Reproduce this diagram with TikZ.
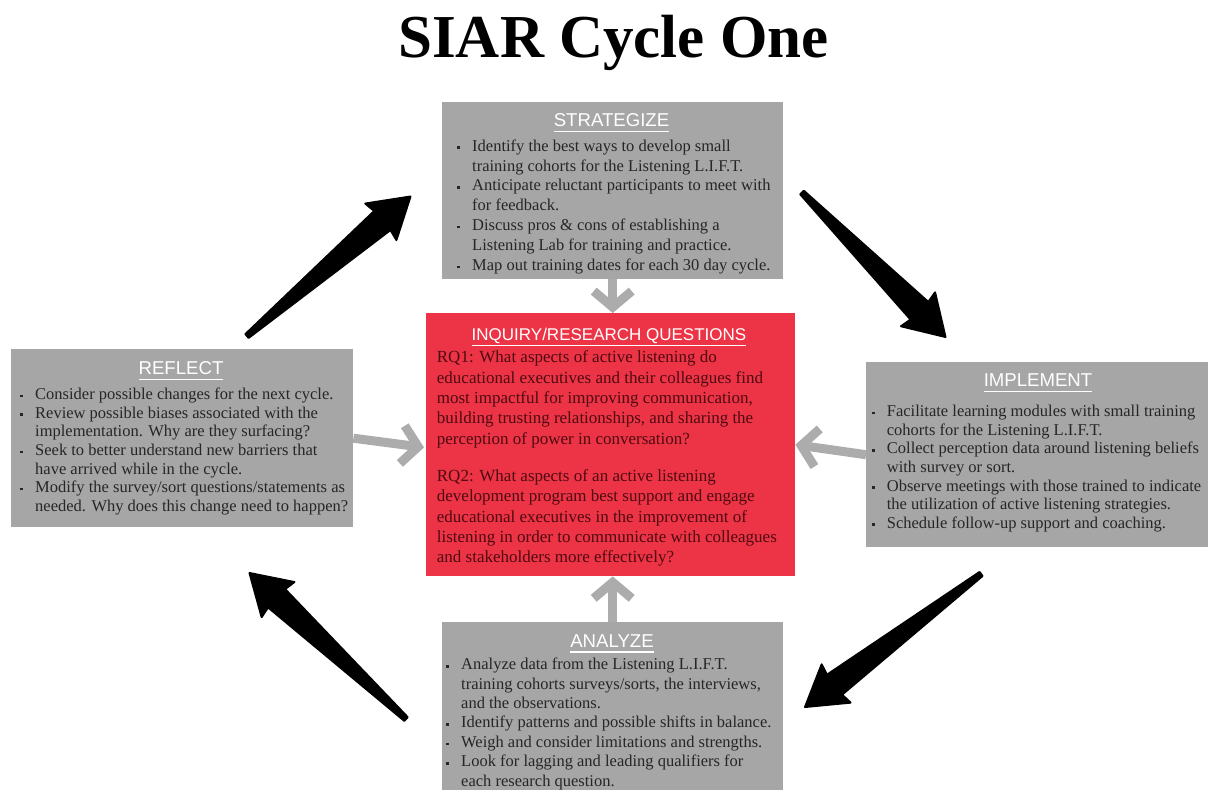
\documentclass[tikz,border=0pt]{standalone}
\usepackage{fontspec}
\setmainfont{Liberation Serif}
\newfontfamily\headfont{Liberation Sans}
\usetikzlibrary{arrows.meta,calc}

\definecolor{boxgray}{RGB}{166,166,166}
\definecolor{feedgray}{RGB}{172,172,172}
\definecolor{rqred}{RGB}{237,52,70}
\definecolor{rqtext}{RGB}{78,10,16}
\definecolor{bodytext}{RGB}{38,38,38}

% bullet column
\newlength\bw
\setlength\bw{16pt}
\newcommand\bmark{\makebox[\bw][l]{\hspace*{1pt}\raisebox{0.3ex}{\rule{2.6pt}{2.6pt}}}}
\newcommand\cont{\hspace*{\bw}}
% underlined heading
\newsavebox\hdbox
\newcommand\headtext[1]{\sbox\hdbox{#1}\rlap{\rule[-5.5pt]{\wd\hdbox}{1.7pt}}\usebox\hdbox}

% tapered black arrow from #1 (tail) to #2 (tip)
\newcommand\sweeparrow[2]{%
  \coordinate (sw-a) at ($(#2)!37pt!(#1)$);
  \coordinate (sw-b) at ($(#2)!39pt!(#1)$);
  \filldraw[sweep]
    ($(#1)!2.5pt!90:(#2)$)
    -- ($(sw-a)!12.5pt!-90:(#1)$)
    -- ($(sw-b)!24pt!-90:(#1)$)
    -- (#2)
    -- ($(sw-b)!24pt!90:(#1)$)
    -- ($(sw-a)!12.5pt!90:(#1)$)
    -- ($(#1)!2.5pt!-90:(#2)$)
    -- cycle;
}

\tikzset{
  graybox/.style={fill=boxgray, draw=none, inner sep=0pt, anchor=north west},
  redbox/.style={fill=rqred, draw=none, inner sep=0pt, anchor=north west},
  head/.style={font=\headfont\fontsize{18.6}{20}\selectfont, text=white, inner sep=0pt, anchor=base},
  rqhead/.style={font=\headfont\fontsize{17}{19}\selectfont, text=white, inner sep=0pt, anchor=base},
  body/.style={font=\fontsize{16.5}{#1}\selectfont, text=bodytext, align=left, inner sep=0pt, anchor=north west},
  body/.default=18.6,
  rqbody/.style={font=\fontsize{17}{20.3}\selectfont, text=rqtext, align=left, inner sep=0pt, anchor=north west},
  feed/.style={draw=feedgray, line width=9pt, -{Straight Barb[length=16pt, width=38pt]}},
  sweep/.style={fill=black, draw=black, line width=2pt, line join=round},
}

\begin{document}
\begin{tikzpicture}[x=1pt, y=-1pt]
\useasboundingbox[fill=white] (0,0) rectangle (1210,790);

% title
\node[font=\bfseries\fontsize{61}{66}\selectfont, anchor=base, inner sep=0pt] (title) at (613.5,57) {SIAR Cycle One};

% boxes
\node[graybox, minimum width=341pt, minimum height=177pt] (strat) at (442,102) {};
\node[redbox,  minimum width=369pt, minimum height=263pt] (rq)    at (426,313) {};
\node[graybox, minimum width=342pt, minimum height=178pt] (refl)  at (11,349) {};
\node[graybox, minimum width=342pt, minimum height=185pt] (impl)  at (866,362) {};
\node[graybox, minimum width=341pt, minimum height=168pt] (anal)  at (442,622) {};

% headings
\node[head]   (stratH) at (611.5,126.7) {\headtext{STRATEGIZE}};
\node[rqhead] (rqH)    at (609,340.8)   {\headtext{INQUIRY/RESEARCH QUESTIONS}};
\node[head]   (reflH)  at (181,374.7)   {\headtext{REFLECT}};
\node[head]   (implH)  at (1038,386.7)  {\headtext{IMPLEMENT}};
\node[head]   (analH)  at (612,647.3)   {\headtext{ANALYZE}};

% contents
\node[body=19.9] (stratT) at (456,137) {%
\strut\bmark Identify the best ways to develop small\\
\cont training cohorts for the Listening L.I.F.T.\\
\bmark Anticipate reluctant participants to meet with\\
\cont for feedback.\\
\bmark Discuss pros \& cons of establishing a\\
\cont Listening Lab for training and practice.\\
\bmark Map out training dates for each 30 day cycle.};

\node[rqbody] (rqT) at (436.7,348.5) {%
\strut RQ1: What aspects of active listening do\\
educational executives and their colleagues find\\
most impactful for improving communication,\\
building trusting relationships, and sharing the\\
perception of power in conversation?\\[17pt]
RQ2: What aspects of an active listening\\
development program best support and engage\\
educational executives in the improvement of\\
listening in order to communicate with colleagues\\
and stakeholders more effectively?};

\node[body] (reflT) at (19,386.5) {%
\strut\bmark Consider possible changes for the next cycle.\\
\bmark Review possible biases associated with the\\
\cont implementation. Why are they surfacing?\\
\bmark Seek to better understand new barriers that\\
\cont have arrived while in the cycle.\\
\bmark Modify the survey/sort questions/statements as\\
\cont needed. Why does this change need to happen?};

\node[body] (implT) at (870.7,403.5) {%
\strut\bmark Facilitate learning modules with small training\\
\cont cohorts for the Listening L.I.F.T.\\
\bmark Collect perception data around listening beliefs\\
\cont with survey or sort.\\
\bmark Observe meetings with those trained to indicate\\
\cont the utilization of active listening strategies.\\
\bmark Schedule follow-up support and coaching.};

\node[body=19.4] (analT) at (445,656) {%
\strut\bmark Analyze data from the Listening L.I.F.T.\\
\cont training cohorts surveys/sorts, the interviews,\\
\cont and the observations.\\
\bmark Identify patterns and possible shifts in balance.\\
\bmark Weigh and consider limitations and strengths.\\
\bmark Look for lagging and leading qualifiers for\\
\cont each research question.};

% feedback arrows into the research questions
\draw[feed] (strat.south) -- (strat.south |- rq.north);
\draw[feed, shorten >=2pt] (refl.east) -- ([yshift=-3pt]rq.west);
\draw[feed] (impl.west) -- (rq.east);
\draw[feed] (anal.north) -- (anal.north |- rq.south);

% cycle arrows
\coordinate (c1t) at (247,336);
\coordinate (c1h) at (410.5,196.5);
\coordinate (c2t) at (802,192.5);
\coordinate (c2h) at (945.5,337);
\coordinate (c3t) at (981,574);
\coordinate (c3h) at (805,707);
\coordinate (c4t) at (406,719);
\coordinate (c4h) at (249.5,573);
\sweeparrow{c1t}{c1h}
\sweeparrow{c2t}{c2h}
\sweeparrow{c3t}{c3h}
\sweeparrow{c4t}{c4h}
\end{tikzpicture}
\end{document}
